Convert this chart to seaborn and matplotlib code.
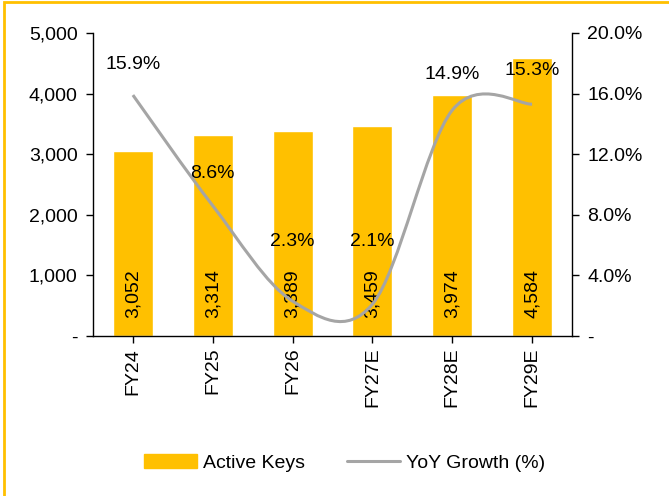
import numpy as np
import pandas as pd
import matplotlib
matplotlib.use("Agg")
import matplotlib.pyplot as plt
import seaborn as sns
from matplotlib.path import Path
from matplotlib.patches import PathPatch, Rectangle
from matplotlib.lines import Line2D
from matplotlib.ticker import FuncFormatter

# --- DATA ---
years = ["FY24", "FY25", "FY26", "FY27E", "FY28E", "FY29E"]
active_keys = [3052, 3314, 3389, 3459, 3974, 4584]
yoy_growth = [15.9, 8.6, 2.3, 2.1, 14.9, 15.3]

GOLD = "#FFC000"
GREY = "#A5A5A5"
FS = 14

sns.set_theme(style="white")
plt.rcParams["font.family"] = ["Liberation Sans", "DejaVu Sans"]
plt.rcParams["text.color"] = "black"
plt.rcParams["xtick.color"] = "black"
plt.rcParams["ytick.color"] = "black"
plt.rcParams["axes.labelcolor"] = "black"

df = pd.DataFrame({"year": years, "keys": active_keys, "yoy": yoy_growth})

fig = plt.figure(figsize=(6.69, 4.96), dpi=100)
ax = fig.add_axes([0.139, 0.3226, 0.716, 0.611])

# bars - active keys
sns.barplot(data=df, x="year", y="keys", color=GOLD, saturation=1, width=0.5, ax=ax)
ax.set_ylim(0, 5000)
ax.set_xlim(-0.5, len(years) - 0.5)
ax.set_yticks(range(0, 5001, 1000))
ax.yaxis.set_major_formatter(FuncFormatter(lambda v, p: "-" if v == 0 else f"{int(v):,}"))
ax.set_xlabel("")
ax.set_ylabel("")
ax.tick_params(axis="x", labelrotation=90, labelsize=FS, length=5, width=1, color="black", bottom=True)
ax.tick_params(axis="y", labelsize=FS, length=5, width=1, color="black", left=True, pad=6)
for s in ["left", "bottom"]:
    ax.spines[s].set_color("black")
    ax.spines[s].set_linewidth(1)
ax.spines["top"].set_visible(False)
ax.spines["right"].set_visible(False)

# values inside the bars
for i, v in enumerate(active_keys):
    ax.annotate(f"{v:,}", (i, 0), xytext=(0, 13), textcoords="offset points",
                rotation=90, ha="center", va="bottom", fontsize=FS)

# secondary axis - yoy growth
ax2 = ax.twinx()
ax2.set_ylim(0, 20)
ax2.set_yticks(np.arange(0, 20.1, 4))
ax2.yaxis.set_major_formatter(FuncFormatter(lambda v, p: "-" if v == 0 else f"{v:.1f}%"))
ax2.tick_params(axis="y", labelsize=FS, length=5, width=1, color="black", right=True, pad=6)
for s in ["top", "left", "bottom"]:
    ax2.spines[s].set_visible(False)
ax2.spines["right"].set_color("black")
ax2.spines["right"].set_linewidth(1)

# smoothed line (excel style bezier through the points)
xs = np.arange(len(yoy_growth), dtype=float)
ys = np.array(yoy_growth, dtype=float)
verts = [(xs[0], ys[0])]
codes = [Path.MOVETO]
n = len(xs)
for i in range(n - 1):
    p0 = np.array([xs[max(i - 1, 0)], ys[max(i - 1, 0)]])
    p1 = np.array([xs[i], ys[i]])
    p2 = np.array([xs[i + 1], ys[i + 1]])
    p3 = np.array([xs[min(i + 2, n - 1)], ys[min(i + 2, n - 1)]])
    c1 = p1 + (p2 - p0) / 6
    c2 = p2 - (p3 - p1) / 6
    verts += [tuple(c1), tuple(c2), tuple(p2)]
    codes += [Path.CURVE4] * 3
ax2.add_patch(PathPatch(Path(verts, codes), facecolor="none", edgecolor=GREY, lw=2.2))

offsets = [22, 23, 43, 45, 26, 24]
for i, v in enumerate(yoy_growth):
    ax2.annotate(f"{v:.1f}%", (i, v), xytext=(0, offsets[i]), textcoords="offset points",
                 ha="center", va="center", fontsize=FS)

handles = [Rectangle((0, 0), 1, 1, color=GOLD), Line2D([0], [0], color=GREY, lw=2.2)]
fig.legend(handles, ["Active Keys", "YoY Growth (%)"], loc="center", bbox_to_anchor=(0.515, 0.067),
           ncol=2, frameon=False, fontsize=FS, handlelength=2.7, columnspacing=2.2, handletextpad=0.3)

# yellow frame
fig.add_artist(Rectangle((0.006, -0.01), 1.0, 1.006, transform=fig.transFigure,
                         fill=False, edgecolor=GOLD, lw=2))

fig.savefig("out.png", dpi=100)
